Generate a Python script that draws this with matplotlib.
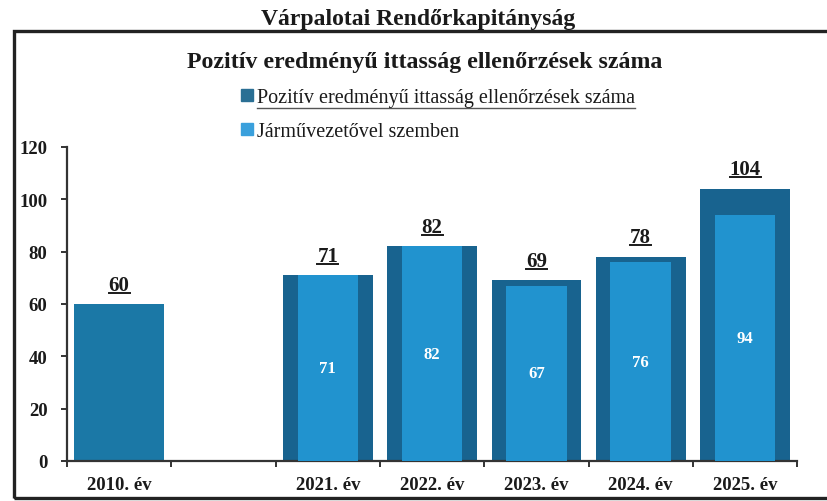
import numpy as np
import matplotlib
matplotlib.use("Agg")
import matplotlib.pyplot as plt
from matplotlib.patches import Rectangle, Patch
from matplotlib.lines import Line2D

# Évenkénti adatok (a 2010 és 2021 közötti üres hely külön kategória)
years = ["2010. év", "", "2021. év", "2022. év", "2023. év", "2024. év", "2025. év"]
pozitiv = [60, np.nan, 71, 82, 69, 78, 104]
jarmuvezeto = [np.nan, np.nan, 71, 82, 67, 76, 94]

title_top = "Várpalotai Rendőrkapitányság"
title_chart = "Pozitív eredményű ittasság ellenőrzések száma"
legend_labels = ["Pozitív eredményű ittasság ellenőrzések száma", "Járművezetővel szemben"]

dark = "#18638f"
dark_2010 = "#1b78a6"
light = "#2193cf"
serif = "Liberation Serif"

plt.rcParams["font.family"] = serif

fig = plt.figure(figsize=(8.27, 5.02), dpi=100)
ax = fig.add_axes([0.081, 0.0797, 0.883, 0.6255])

x = np.arange(len(years))
outer_colors = [dark_2010] + [dark] * (len(years) - 1)
bars_outer = ax.bar(x, pozitiv, width=0.86, color=outer_colors, zorder=2)
bars_inner = ax.bar(x, jarmuvezeto, width=0.58, color=light, zorder=3)

ax.set_xlim(-0.5, len(years) - 0.5)
ax.set_ylim(0, 120)
ax.set_yticks(np.arange(0, 121, 20))

for s in ("top", "right"):
    ax.spines[s].set_visible(False)
for s in ("left", "bottom"):
    ax.spines[s].set_color("#333333")
    ax.spines[s].set_linewidth(1.6)

ax.tick_params(axis="y", direction="out", length=4, width=1.4, color="#333333", pad=10)
ax.set_xticks(x)
ax.set_xticklabels(years)
ax.set_xticks(np.arange(-0.5, len(years), 1.0), minor=True)
ax.tick_params(axis="x", which="major", length=0, pad=11)
ax.tick_params(axis="x", which="minor", direction="out", length=4, width=1.4, color="#333333")
for lbl in ax.get_yticklabels() + ax.get_xticklabels():
    lbl.set_fontweight("bold")
    lbl.set_fontsize(13.5)
    lbl.set_color("#1a1a1a")

# Értékcímkék
top_labels = []
for xi, v in zip(x, pozitiv):
    if np.isnan(v):
        continue
    t = ax.annotate(f"{v:g}", (xi, v), xytext=(0, 14), textcoords="offset points",
                    ha="center", va="center", fontsize=15, fontweight="bold",
                    color="#1a1a1a", zorder=5)
    top_labels.append(t)
for xi, v in zip(x, jarmuvezeto):
    if np.isnan(v):
        continue
    ax.text(xi, v / 2, f"{v:g}", ha="center", va="center", fontsize=12,
            fontweight="bold", color="white", zorder=5)

# Címek
fig.text(0.506, 0.962, title_top, ha="center", va="center", fontsize=17,
         fontweight="bold", color="#1a1a1a")
fig.text(0.514, 0.876, title_chart, ha="center", va="center", fontsize=17.2,
         fontweight="bold", color="#1a1a1a")

# Jelmagyarázat
handles = [Patch(color="#2a6f94"), Patch(color="#3aa0dc")]
leg = fig.legend(handles, legend_labels, loc="upper left", bbox_to_anchor=(0.292, 0.822),
                 frameon=False, fontsize=14.5, handlelength=0.55, handleheight=0.55,
                 handletextpad=0.2, labelspacing=0.75, borderaxespad=0, borderpad=0)
for t in leg.get_texts():
    t.set_color("#1a1a1a")

# Keret
fig.patches.append(Rectangle((14 / 827, 3 / 502), 1.0, 467 / 502, transform=fig.transFigure,
                             fill=False, edgecolor="#222222", linewidth=2.4, zorder=0))

# Aláhúzások
fig.canvas.draw()
renderer = fig.canvas.get_renderer()
inv = fig.transFigure.inverted()


def underline(text, color, lw, gap=1.0):
    bb = text.get_window_extent(renderer)
    (x0, y0), (x1, _) = inv.transform([(bb.x0, bb.y0 + gap), (bb.x1, bb.y0 + gap)])
    fig.add_artist(Line2D([x0, x1], [y0, y0], transform=fig.transFigure,
                          color=color, linewidth=lw))


for t in top_labels:
    underline(t, "#1a1a1a", 1.4, gap=2.0)
underline(leg.get_texts()[0], "#555555", 1.0, gap=-1.0)

fig.savefig("out.png", dpi=100)
